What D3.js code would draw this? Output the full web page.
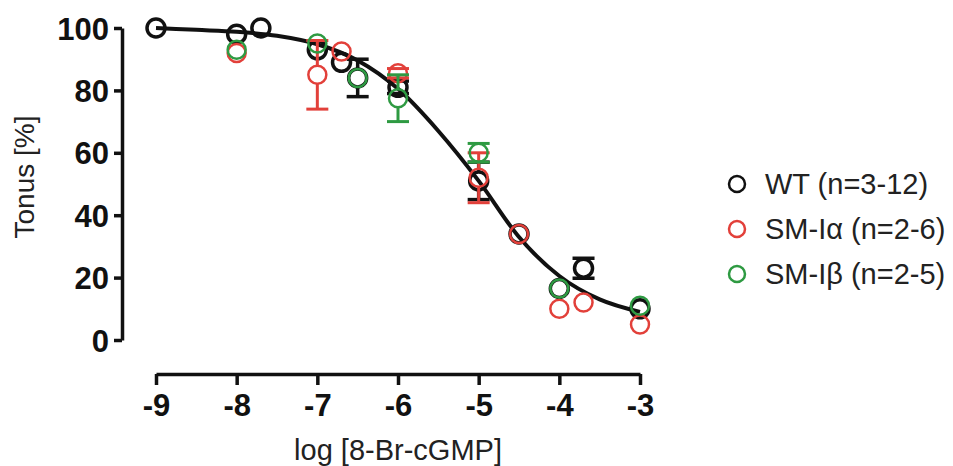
<!DOCTYPE html>
<html>
<head>
<meta charset="utf-8">
<title>Tonus vs 8-Br-cGMP</title>
<script src="https://d3js.org/d3.v7.min.js"></script>
<style>
  body { margin: 0; background: #fff; }
  text { font-family: "Liberation Sans", Arial, sans-serif; }
</style>
</head>
<body>
<script>
// x values are log concentration, y values are tonus in %
var wtX   = [-9, -8, -7.7, -7, -6.7, -6.5, -6, -5, -4.5, -4, -3.7, -3];
var wtY   = [100, 98, 100, 93, 89, 84, 81, 51, 34, 16.5, 23, 10];
var wtErr = [0, 0, 0, 0, 0, 6, 2, 6, 0, 0, 3.2, 0];

var alphaX   = [-8, -7, -6.7, -6, -5, -4.5, -4, -3.7, -3];
var alphaY   = [92, 85, 92.5, 85.5, 52, 34, 10, 12, 5];
var alphaErr = [0, 11, 0, 1.5, 8, 0, 0, 0, 0];

var betaX   = [-8, -7, -6.5, -6, -5, -4, -3];
var betaY   = [93, 95, 84, 77.5, 60, 16.5, 11];
var betaErr = [0, 0, 0, 7.5, 3, 0, 0];

// fitted curve
var fitX = [-9, -8.5, -8, -7.5, -7, -6.5, -6, -5.5, -5, -4.5, -4, -3.5, -3];
var fitY = [100, 99.4, 98.8, 97.5, 94.8, 89.6, 80.5, 67, 51, 33, 20.5, 13, 9];

var xTicks = [-9, -8, -7, -6, -5, -4, -3];
var yTicks = [0, 20, 40, 60, 80, 100];

var seriesNames = ["WT (n=3-12)", "SM-I\u03b1 (n=2-6)", "SM-I\u03b2 (n=2-5)"];
var seriesColors = ["#111111", "#e2403a", "#2e9a42"];

function draw() {
    var width = 953, height = 466;
    var svg = d3.select("body").append("svg").attr("width", width).attr("height", height);

    var x = d3.scaleLinear().domain([-9, -3]).range([156, 640]);
    var y = d3.scaleLinear().domain([0, 100]).range([340, 28]);

    // y axis (Prism style, ticks to the left)
    var yAxis = svg.append("g").attr("transform", "translate(122,0)")
        .call(d3.axisLeft(y).tickValues(yTicks).tickSize(8).tickSizeOuter(0).tickPadding(5));
    // x axis, detached below the plot
    var xAxis = svg.append("g").attr("transform", "translate(0,374)")
        .call(d3.axisBottom(x).tickValues(xTicks).tickSize(11).tickSizeOuter(0).tickPadding(9)
            .tickFormat(function(d) { return String(d); }));

    [yAxis, xAxis].forEach(function(ax) {
        ax.select(".domain").attr("stroke", "#111").attr("stroke-width", 3.5);
        ax.selectAll(".tick line").attr("stroke", "#111").attr("stroke-width", 3.5);
        ax.selectAll(".tick text").attr("fill", "#111").attr("font-size", 31).attr("font-weight", "bold");
    });
    yAxis.selectAll(".tick text").attr("dy", "0.36em");
    xAxis.selectAll(".tick text").attr("dy", "0.7em");

    // axis titles
    svg.append("text").attr("transform", "translate(34,177) rotate(-90)")
        .attr("text-anchor", "middle").attr("font-size", 28).attr("fill", "#222")
        .text("Tonus [%]");
    svg.append("text").attr("x", 398).attr("y", 460)
        .attr("text-anchor", "middle").attr("font-size", 29).attr("fill", "#222")
        .text("log [8-Br-cGMP]");

    // fit curve
    var line = d3.line().x(function(d) { return x(d[0]); }).y(function(d) { return y(d[1]); })
        .curve(d3.curveMonotoneX);
    svg.append("path").datum(d3.zip(fitX, fitY)).attr("d", line)
        .attr("fill", "none").attr("stroke", "#111").attr("stroke-width", 4);

    var r = 9;
    var series = [
        { xs: wtX, ys: wtY, es: wtErr },
        { xs: alphaX, ys: alphaY, es: alphaErr },
        { xs: betaX, ys: betaY, es: betaErr }
    ];

    series.forEach(function(s, i) {
        var col = seriesColors[i];
        var g = svg.append("g");
        var pts = s.xs.map(function(v, j) { return { x: v, y: s.ys[j], e: s.es[j] }; });
        var withErr = pts.filter(function(d) { return d.e > 0; });

        // error bars: stems outside the circle plus caps
        withErr.forEach(function(d) {
            var cx = x(d.x), cy = y(d.y), top = y(d.y + d.e), bot = y(d.y - d.e);
            var sw = i === 0 ? 3.5 : 3;
            if (cy - top > r) {
                g.append("line").attr("x1", cx).attr("x2", cx).attr("y1", cy - r).attr("y2", top)
                    .attr("stroke", col).attr("stroke-width", sw);
            }
            if (bot - cy > r) {
                g.append("line").attr("x1", cx).attr("x2", cx).attr("y1", cy + r).attr("y2", bot)
                    .attr("stroke", col).attr("stroke-width", sw);
            }
            [top, bot].forEach(function(yy) {
                g.append("line").attr("x1", cx - 11).attr("x2", cx + 11).attr("y1", yy).attr("y2", yy)
                    .attr("stroke", col).attr("stroke-width", sw);
            });
        });

        g.selectAll("circle").data(pts).enter().append("circle")
            .attr("cx", function(d) { return x(d.x); })
            .attr("cy", function(d) { return y(d.y); })
            .attr("r", r)
            .attr("fill", "none")
            .attr("stroke", col)
            .attr("stroke-width", i === 0 ? 3.5 : 2.5);
    });

    // legend
    var legend = svg.append("g");
    seriesNames.forEach(function(name, i) {
        var ly = 184 + i * 45;
        legend.append("circle").attr("cx", 737).attr("cy", ly).attr("r", 8)
            .attr("fill", "none").attr("stroke", seriesColors[i]).attr("stroke-width", 2.5);
        legend.append("text").attr("x", 765).attr("y", ly).attr("dy", "0.36em")
            .attr("font-size", 29).attr("fill", "#222").text(name);
    });
}

draw();
</script>
</body>
</html>
